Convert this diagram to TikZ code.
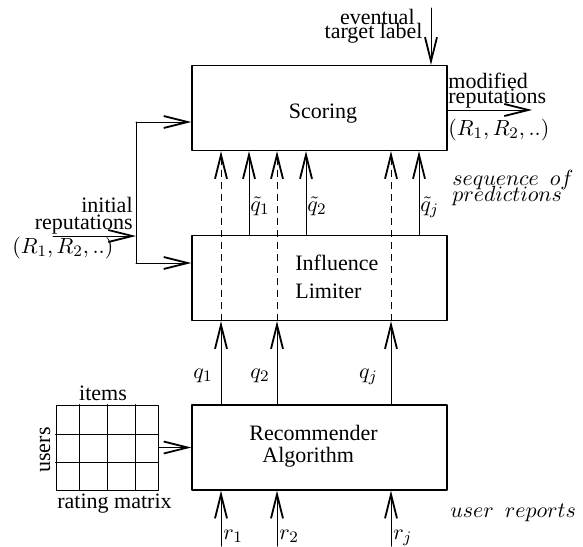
\documentclass[tikz,border=0pt]{standalone}
\usepackage{fontspec}
\setmainfont{Liberation Serif}
\usetikzlibrary{arrows.meta}

\begin{document}
\begin{tikzpicture}[x=0.5pt,y=-0.5pt,line cap=round,line join=round,
  box/.style={draw,line width=0.6pt,minimum width=127.5pt,minimum height=42.5pt,inner sep=0pt},
  wire/.style={line width=0.5pt},
  flow/.style={wire,-{Straight Barb[length=12pt,width=6pt,line width=0.9pt]}},
  hint/.style={flow,line cap=butt,dash pattern=on 3.5pt off 2.5pt},
  txt/.style={inner sep=0pt,font=\fontsize{11}{13}\selectfont}]
\path[use as bounding box] (0,0) rectangle (583,546);
% the three blocks
\node[box] (scoring) at (319.5,108) {};
\node[box] (limiter) at (319.5,278) {};
\node[box] (rec) at (319.5,447.5) {};
\node[txt,anchor=base] (scoringtxt) at (323,118) {Scoring};
\node[txt,anchor=base west] (limtxt1) at (295,270) {Influence};
\node[txt,anchor=base west] (limtxt2) at (295,298) {Limiter};
\node[txt,anchor=base west] (rectxt1) at (249,440) {Recommender};
\node[txt,anchor=base west] (rectxt2) at (262,462) {Algorithm};
% rating matrix
\node[box,line width=0.5pt,minimum width=51pt] (ratings) at (107,447.5) {};
\foreach \c in {79,107,135}
  \draw[wire] (ratings.north -| \c,0) -- (ratings.south -| \c,0);
\foreach \r in {434,462}
  \draw[wire] (ratings.west |- 0,\r) -- (ratings.east |- 0,\r);
\node[txt,anchor=base] (items) at (103,400) {items};
\node[txt,rotate=90] (users) at (45,450) {users};
\node[txt,anchor=base west] (ratingtxt) at (57,508) {rating matrix};
\draw[flow] (ratings.east) -- (rec.west);
% reports, predictions and the dashed bypass
\foreach \c [count=\i] in {221,277,391} {
  \coordinate (r\i) at (\c,546);
  \draw[flow] (r\i) -- (rec.south -| r\i);
  \draw[flow] (rec.north -| r\i) -- (limiter.south -| r\i);
  \draw[hint] (limiter.south -| r\i) -- (scoring.south -| r\i);
}
\foreach \c [count=\i] in {249,306,419} {
  \coordinate (p\i) at (\c,0);
  \draw[flow] (limiter.north -| p\i) -- (scoring.south -| p\i);
}
\foreach \c/\s in {223/1,279/2,393/j}
  \node[txt,anchor=base west] (r\s txt) at (\c,539) {$r_{\s}$};
\foreach \c/\s in {213/1,270/2,378/j}
  \node[txt,anchor=base east] (q\s txt) at (\c,378) {$q_{\s}$};
\foreach \c/\s in {250/1,307/2,420/j}
  \node[txt,anchor=base west] (qt\s txt) at (\c,211) {$\tilde q_{\s}$};
\node[txt,anchor=base west] (seq1) at (452,185) {$sequence~~of$};
\node[txt,anchor=base west] (seq2) at (452,201) {$predictions$};
\node[txt,anchor=base west] (reports) at (450,517) {$user~~reports$};
% initial reputations
\coordinate (inL) at (53,236);
\coordinate (split) at (136,236);
\coordinate (sIn) at (136,122);
\coordinate (lIn) at (136,263);
\draw[flow] (inL) -- (split);
\draw[wire] (sIn) -- (lIn);
\draw[flow] (sIn) -- (scoring.west |- sIn);
\draw[flow] (lIn) -- (limiter.west |- lIn);
\node[txt,anchor=base east] (init1) at (133,212) {initial};
\node[txt,anchor=base east] (init2) at (133,229) {reputations};
\node[txt,anchor=base west] (init3) at (12,253) {$(R_1,R_2,..)$};
% modified reputations
\coordinate (outR) at (532,110);
\draw[flow] (scoring.east |- outR) -- (outR);
\node[txt,anchor=base west] (mod1) at (448,88) {modified};
\node[txt,anchor=base west] (mod2) at (448,103) {reputations};
\node[txt,anchor=base west] (mod3) at (448,135) {$(R_1,R_2,..)$};
% eventual target label
\coordinate (tgt) at (431,8);
\draw[flow] (tgt) -- (scoring.north -| tgt);
\node[txt,anchor=base east] (tgt1) at (415,25) {eventual};
\node[txt,anchor=base east] (tgt2) at (423,39) {target label};
\end{tikzpicture}
\end{document}
